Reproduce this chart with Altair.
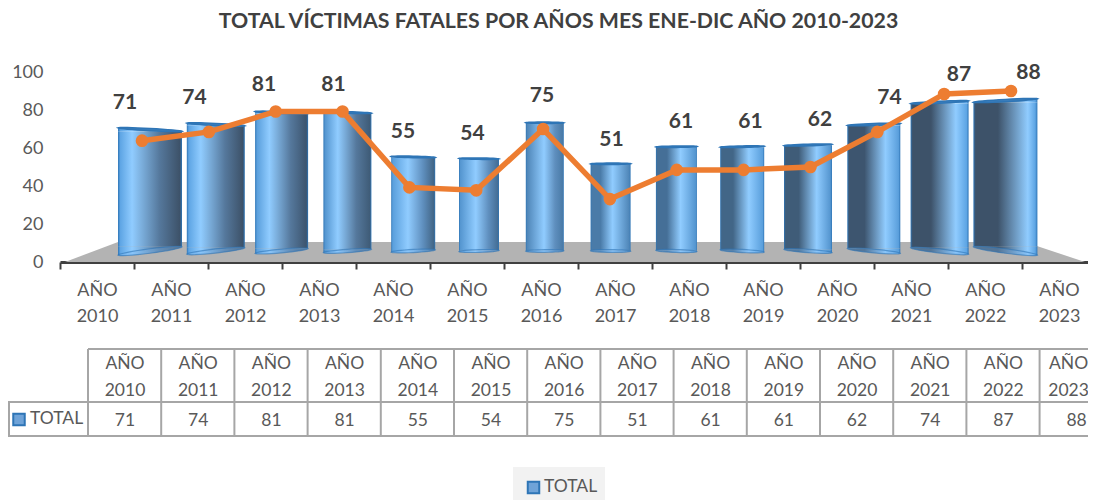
import math
import altair as alt
import pandas as pd

years = ["AÑO 2010", "AÑO 2011", "AÑO 2012", "AÑO 2013", "AÑO 2014", "AÑO 2015", "AÑO 2016",
         "AÑO 2017", "AÑO 2018", "AÑO 2019", "AÑO 2020", "AÑO 2021", "AÑO 2022", "AÑO 2023"]
total = [71, 74, 81, 81, 55, 54, 75, 51, 61, 61, 62, 74, 87, 88]
y_ticks = [0, 20, 40, 60, 80, 100]
TITLE = "TOTAL VÍCTIMAS FATALES  POR AÑOS MES ENE-DIC AÑO 2010-2023"

FONT = "Lato"
GREY = "#595959"
DARK = "#404040"
LINE = "#a6a6a6"
ORANGE = "#ed7d31"
EDGE = "#2e75b6"
HL = "#90ccff"

df = pd.DataFrame({"year": years, "total": total, "i": list(range(14))})

# apparent cylinder widths / shading (3-D perspective of the original)
widths = [64, 58, 53, 48, 44, 40, 38, 40, 41, 44, 48, 53, 58, 64]
highlight = [.22, .24, .27, .30, .38, .42, .48, .55, .60, .65, .68, .72, .78, .85]
left_shade = ["#5ea5e4", "#5ea5e4", "#5a9fdc", "#5596d0", "#5a9fdc", "#5596d0", "#4f86b8",
              "#4a7ba8", "#456f97", "#426687", "#3f5c78", "#3d556f", "#3d5269", "#3d5269"]
right_shade = left_shade[::-1]

X_BARS = alt.Scale(type="point", domain=years, range=[90, 90 + 65.8 * 13], padding=0)
Y_BARS = alt.Scale(domain=[0, 100], range=[179, 8])
X_LINE = alt.Scale(type="point", domain=years, range=[82, 951], padding=0)
Y_LINE = alt.Scale(domain=[0, 100], range=[276, -16])
X_LAB = alt.Scale(type="point", domain=years, range=[65, 65 + 69.5 * 13], padding=0)
Y_LAB = alt.Scale(domain=[0, 100], range=[160, -21])
X_TAB = alt.Scale(type="point", domain=years, range=[65, 65 + 73.2 * 13], padding=0)


def gradient(i):
    p = highlight[i]
    st = [(0, EDGE), (0.035, left_shade[i])]
    if i >= 7:
        st.append((max(p * 0.45, 0.05), left_shade[i]))
    st.append((p, HL))
    if i <= 6:
        st.append((p + (1 - p) * 0.55, "#5f8fbe" if i > 3 else "#55789c"))
    st += [(0.965, right_shade[i]), (1, EDGE)]
    return alt.Gradient(gradient="linear", x1=0, x2=1, y1=0, y2=0,
                        stops=[alt.GradientStop(offset=o, color=c) for o, c in st])


def pts(s, k, a, b, n=16):
    out = []
    for j in range(n + 1):
        th = a + (b - a) * j / n
        out.append((math.cos(th), s * math.cos(th) + k * math.sin(th)))
    return out


def to_path(p):
    return "M" + " L".join(f"{x:.4f},{y:.4f}" for x, y in p) + " Z"


def ellipse(s, k):
    return to_path(pts(s, k, 0, 2 * math.pi, 32)[:-1])


def top_skirt(s, k):
    p = pts(s, k, math.pi, 2 * math.pi)
    c = abs(s)
    return to_path(p + [(1, c), (-1, c)])


def bottom_skirt(s, k):
    p = pts(s, k, 0, math.pi)
    c = -abs(s)
    return to_path(p + [(-1, c), (1, c)])


base = alt.Chart(df)
layers = []

# floor of the 3-D chart
layers.append(
    base.transform_filter("datum.i == 0").mark_point(
        shape="M-1,0.0196 L-0.896,-0.0196 L0.882,-0.0196 L1,0.0196 Z",
        size=1020 ** 2, filled=True, fill="#b3b3b3", stroke=None, opacity=1
    ).encode(x=alt.value(515), y=alt.value(180))
)

# axes layer
layers.append(
    base.mark_bar(opacity=0).encode(
        x=alt.X("year:N", sort=years, title=None,
                scale=alt.Scale(type="band", domain=years, range=[0, 1036], paddingInner=0, paddingOuter=0),
                axis=alt.Axis(labelAngle=0, labelFont=FONT, labelFontSize=18, labelColor=GREY,
                              labelExpr="split(datum.label, ' ')", labelLineHeight=26,
                              labelPadding=12, domainColor=DARK, domainWidth=3,
                              tickColor=DARK, tickWidth=2, tickSize=7, tickBand="extent",
                              labelLimit=200, grid=False)),
        y=alt.Y("total:Q", title=None, stack=None,
                scale=alt.Scale(domain=[0, 100], range=[190, 0]),
                axis=alt.Axis(values=y_ticks, labelFont=FONT, labelFontSize=18, labelColor=GREY,
                              domain=False, ticks=False, tickSize=0, labelPadding=17, grid=False)),
    )
)

# cylinders
for i in range(14):
    w = widths[i]
    f = (i - 6.5) / 6.5
    st, kt = -0.055 * f, 0.035
    sb, kb = 0.13 * f, 0.07
    one = base.transform_filter(f"datum.i == {i}")
    grad = gradient(i)
    enc_x = alt.X("year:N", scale=X_BARS, axis=None, title=None)
    enc_y = alt.Y("total:Q", scale=Y_BARS, axis=None, title=None, stack=None)
    layers.append(one.mark_bar(size=w, color=grad, yOffset=abs(st) * w / 2,
                               y2Offset=-abs(sb) * w / 2).encode(
        x=enc_x, y=enc_y, y2=alt.Y2(datum=0)))
    layers.append(one.mark_point(shape=bottom_skirt(sb, kb), size=w * w, filled=True, fill=grad,
                                 stroke=None, opacity=1).encode(
        x=enc_x, y=alt.Y(datum=0, scale=Y_BARS, axis=None, title=None)))
    layers.append(one.mark_point(shape=ellipse(sb, kb), size=w * w, filled=True, fill="#7db8ee",
                                 fillOpacity=0.35, stroke=EDGE, strokeOpacity=0.6, strokeWidth=1.2, opacity=1).encode(
        x=enc_x, y=alt.Y(datum=0, scale=Y_BARS, axis=None, title=None)))
    layers.append(one.mark_point(shape=top_skirt(st, kt), size=w * w, filled=True, fill=grad,
                                 stroke=None, opacity=1).encode(x=enc_x, y=enc_y))
    layers.append(one.mark_point(shape=ellipse(st, kt), size=w * w, filled=True, fill="#3f80bd",
                                 stroke=EDGE, strokeWidth=1.5, opacity=1).encode(x=enc_x, y=enc_y))

# line + dots
line_x = alt.X("year:N", scale=X_LINE, axis=None, title=None)
line_y = alt.Y("total:Q", scale=Y_LINE, axis=None, title=None, stack=None)
layers.append(base.mark_line(color=ORANGE, strokeWidth=5.5).encode(x=line_x, y=line_y))
layers.append(base.mark_point(filled=True, color=ORANGE, size=160, opacity=1).encode(x=line_x, y=line_y))

# data labels
layers.append(base.mark_text(font=FONT, fontWeight="bold", fontSize=21, color=DARK).encode(
    x=alt.X("year:N", scale=X_LAB, axis=None, title=None),
    y=alt.Y("total:Q", scale=Y_LAB, axis=None, title=None, stack=None),
    text="total:Q"))

# data table
tab_x = alt.X("year:N", scale=X_TAB, axis=None, title=None)
layers.append(base.transform_filter("datum.i < 13").mark_text(
    font=FONT, fontSize=17.5, color=GREY, lineBreak=" ", lineHeight=27).encode(
    x=tab_x, y=alt.value(291.5), text="year:N"))
layers.append(base.transform_filter("datum.i == 13").mark_text(
    font=FONT, fontSize=17.5, color=GREY, lineBreak=" ", lineHeight=27, dx=-8).encode(
    x=tab_x, y=alt.value(291.5), text="year:N"))
layers.append(base.mark_text(font=FONT, fontSize=17.5, color=GREY).encode(
    x=tab_x, y=alt.value(349), text="total:Q"))

rules = pd.DataFrame({"c": list(range(15))})
layers.append(alt.Chart(rules).mark_rule(color=LINE, strokeWidth=2).encode(
    x=alt.X("c:Q", axis=None, title=None, scale=alt.Scale(domain=[0, 14], range=[28, 28 + 73.2 * 14])),
    y=alt.value(277), y2=alt.value(364)))
rule_rows = [(28, 277), (-52, 330), (-52, 364)]
for x0, yy in rule_rows:
    layers.append(base.transform_filter("datum.i == 0").mark_rule(color=LINE, strokeWidth=2).encode(
        x=alt.value(x0), x2=alt.value(1036), y=alt.value(yy)))
layers.append(base.transform_filter("datum.i == 0").mark_rule(color=LINE, strokeWidth=2).encode(
    x=alt.value(-51), y=alt.value(330), y2=alt.value(364)))


def swatch(px, py):
    return base.transform_filter("datum.i == 0").mark_point(
        shape="square", size=132, filled=True, fill="#6fa3d8", stroke=EDGE, strokeWidth=2, opacity=1
    ).encode(x=alt.value(px), y=alt.value(py))


def label(px, py):
    return base.transform_filter("datum.i == 0").mark_text(
        font=FONT, fontSize=17.5, color=GREY, align="left", text="TOTAL"
    ).encode(x=alt.value(px), y=alt.value(py))


layers += [swatch(-41, 347.5), label(-30, 347)]

# legend
layers.append(base.transform_filter("datum.i == 0").mark_rect(color="#f2f2f2").encode(
    x=alt.value(453), x2=alt.value(545), y=alt.value(395), y2=alt.value(428)))
layers += [swatch(473.5, 415.5), label(484, 415)]

chart = alt.layer(*layers).resolve_scale(x="independent", y="independent").properties(
    width=1028, height=190,
    padding={"left": 52, "top": 64, "right": 0, "bottom": 238},
    autosize=alt.AutoSizeParams(type="none"),
    background="white",
    title=alt.TitleParams(TITLE, font=FONT, fontSize=21.3, fontWeight="bold", color=DARK,
                          anchor="middle", dx=-15.5, offset=29),
).configure_view(stroke=None)

chart.save("out.html", embed_options={"renderer": "svg", "actions": False})
